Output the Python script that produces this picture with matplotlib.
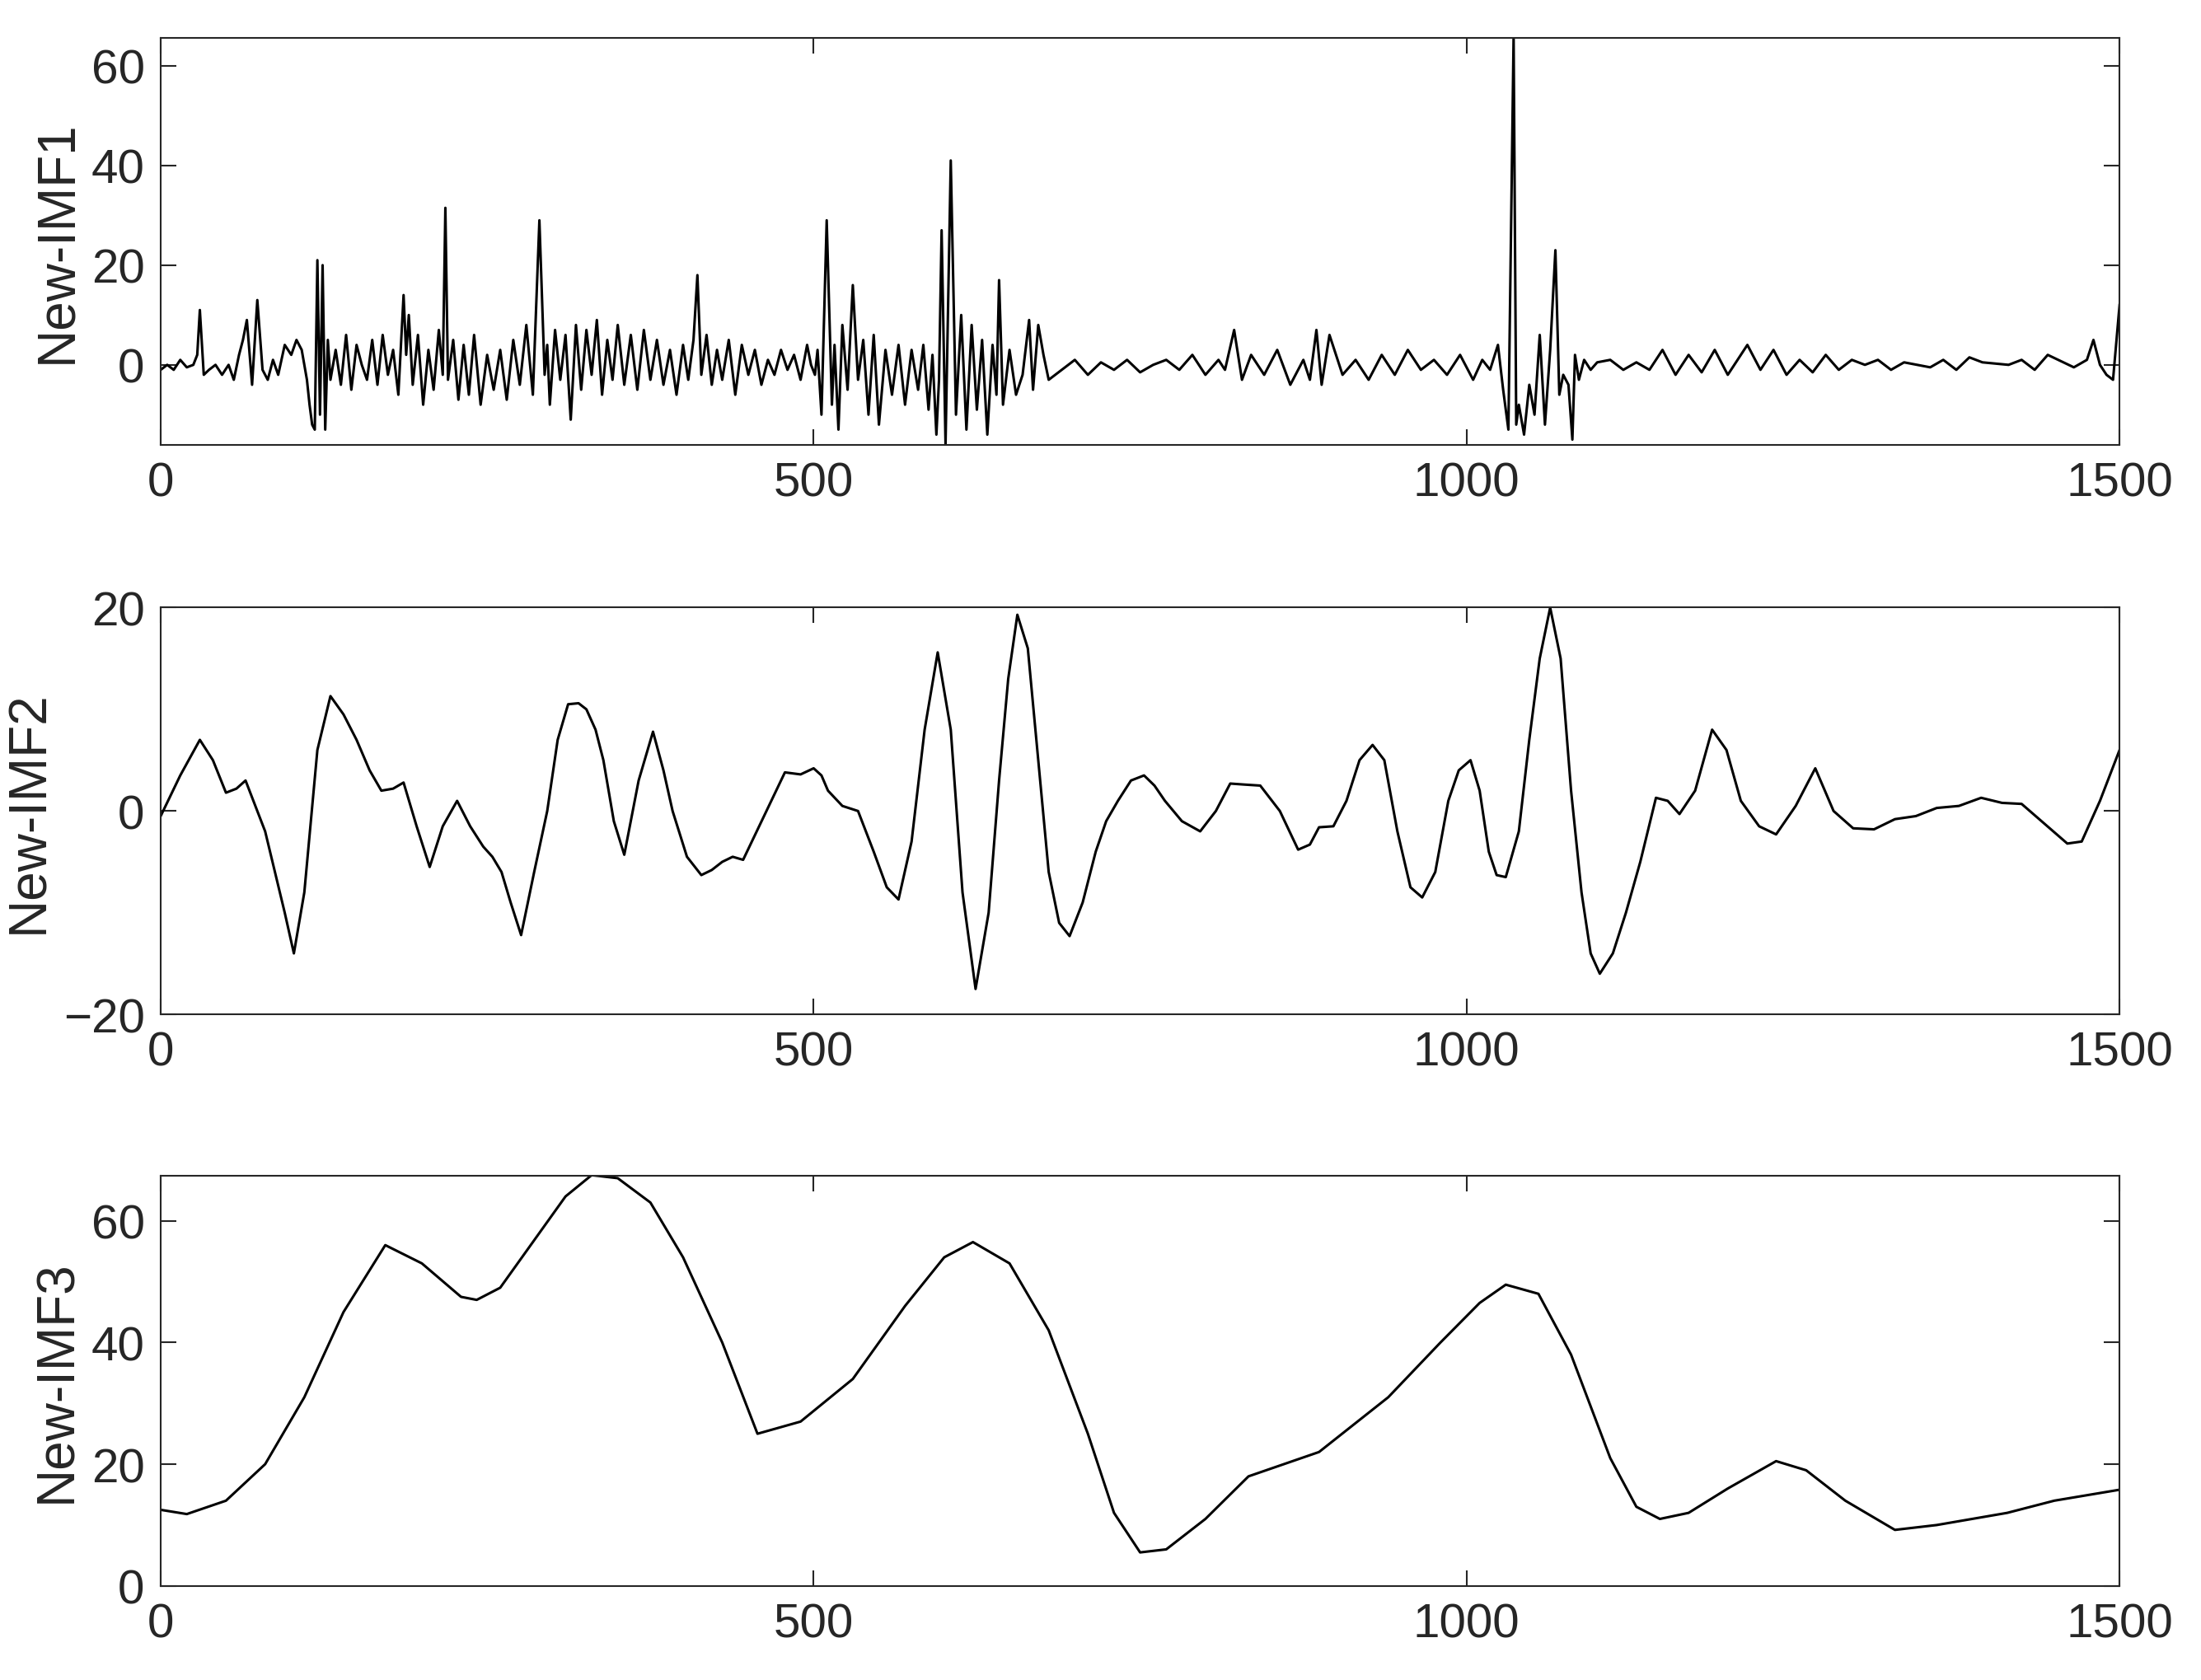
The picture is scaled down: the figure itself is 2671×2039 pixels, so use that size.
import matplotlib
matplotlib.use("Agg")
import matplotlib.pyplot as plt

plt.rcParams['font.family'] = ['Liberation Sans', 'DejaVu Sans']

imf1_x = [0,5,10,15,20,25,28,30,33,37,42,47,52,56,60,63,66,70,74,78,82,86,90,95,100,104,108,112,114,116,118,120,122,124,126,128,130,134,138,142,146,150,154,158,162,166,170,174,178,182,186,188,190,193,197,201,205,209,213,216,218,220,224,228,232,236,240,245,250,255,260,265,270,275,280,285,290,294,296,298,302,306,310,314,318,322,326,330,334,338,342,346,350,355,360,365,370,375,380,385,390,395,400,404,408,411,414,418,422,426,430,435,440,445,450,455,460,465,470,475,480,485,490,495,498,501,503,506,510,514,516,519,522,526,530,534,538,542,546,550,555,560,565,570,575,580,584,588,591,594,596,598,601,605,609,613,617,621,625,629,633,637,640,642,645,650,655,660,665,668,672,676,680,690,700,710,720,730,740,750,760,770,780,790,800,810,815,822,828,835,845,855,865,875,880,885,889,895,905,915,925,935,945,955,965,975,985,995,1005,1012,1018,1024,1028,1032,1036,1038,1040,1044,1048,1052,1056,1060,1064,1068,1071,1074,1078,1081,1083,1086,1090,1095,1100,1110,1120,1130,1140,1150,1160,1170,1180,1190,1200,1215,1225,1235,1245,1255,1265,1275,1285,1295,1305,1315,1325,1335,1355,1365,1375,1385,1395,1415,1425,1435,1445,1465,1475,1480,1485,1490,1495,1500]
imf1_y = [-1,0,-1,1,-0.5,0,2,11,-2,-1,0,-2,0,-3,2,5,9,-4,13,-1,-3,1,-2,4,2,5,3,-3,-8,-12,-13,21,-10,20,-13,5,-3,3,-4,6,-5,4,0,-3,5,-4,6,-2,3,-6,14,2,10,-4,6,-8,3,-5,7,-2,31.5,-3,5,-7,4,-6,6,-8,2,-5,3,-7,5,-4,8,-6,29,-2,4,-8,7,-3,6,-11,8,-5,7,-2,9,-6,5,-3,8,-4,6,-5,7,-3,5,-4,3,-6,4,-3,5,18,-2,6,-4,3,-3,5,-6,4,-2,3,-4,1,-2,3,-1,2,-3,4,0,-2,3,-10,29,-8,4,-13,8,-5,16,-3,5,-10,6,-12,3,-6,4,-8,3,-5,4,-9,2,-14,-3,27,-16,41,-10,10,-13,8,-9,5,-14,4,-6,17,-8,3,-6,-2,9,-5,8,2,-3,-1,1,-2,0.5,-1,1,-1.5,0,1,-1,2,-2,1,-1,7,-3,2,-2,3,-4,1,-3,7,-4,6,-2,1,-3,2,-2,3,-1,1,-2,2,-3,1,-1,4,-5,-13,66,-12,-8,-14,-4,-10,6,-12,3,23,-6,-2,-4,-15,2,-3,1,-1,0.5,1,-1,0.5,-1,3,-2,2,-1.5,3,-2,4,-1,3,-2,1,-1.5,2,-1,1,0,1,-1,0.5,-0.5,1,-1,1.5,0.5,0,1,-1,2,-0.5,1,5,0,-2,-3,12]

imf2_x = [0, 15, 30, 40, 50, 58, 65, 80, 95, 102,
          110, 120, 130, 140, 150, 160, 169, 178, 186, 196,
          206, 216, 227, 237, 247, 254, 261, 268, 276, 286,
          296, 304, 312, 320, 326, 333, 339, 347, 355, 366,
          377, 385, 392, 403, 414, 422, 430, 438, 446, 462,
          478, 490, 500, 506, 511, 522, 534, 546, 556, 565,
          575, 585, 595, 605, 614, 624, 634, 642, 649, 656,
          664, 672, 680, 688, 696, 706, 716, 724, 733, 743,
          753, 761, 769, 782, 796, 808, 819, 830, 842, 857,
          871, 880, 887, 898, 908, 918, 928, 937, 947, 957,
          966, 976, 986, 994, 1003, 1010, 1017, 1023, 1030, 1040,
          1048, 1056, 1064, 1072, 1080, 1088, 1095, 1102, 1112, 1122,
          1133, 1145, 1154, 1163, 1175, 1188, 1199, 1210, 1224, 1237,
          1252, 1267, 1281, 1296, 1312, 1328, 1344, 1360, 1377, 1394,
          1410, 1425, 1443, 1460, 1471, 1485, 1500]
imf2_y = [-0.5, 3.5, 7, 5, 1.8, 2.2, 3, -2, -10, -14,
          -8, 6, 11.3, 9.5, 7, 4, 2, 2.2, 2.8, -1.5,
          -5.5, -1.5, 1, -1.5, -3.5, -4.5, -6, -9, -12.2, -6,
          0, 7, 10.5, 10.6, 10, 8, 5, -1, -4.3, 3,
          7.8, 4, 0, -4.5, -6.3, -5.8, -5, -4.5, -4.8, -0.5,
          3.8, 3.6, 4.2, 3.5, 2, 0.5, 0, -4, -7.5, -8.7,
          -3, 8, 15.6, 8, -8, -17.5, -10, 3, 13, 19.3,
          16, 5, -6, -11, -12.3, -9, -4, -1, 1, 3,
          3.5, 2.5, 1, -1, -2, 0, 2.7, 2.6, 2.5, 0,
          -3.8, -3.3, -1.6, -1.5, 1, 5, 6.5, 5, -2, -7.5,
          -8.5, -6, 1, 4, 5, 2, -4, -6.3, -6.5, -2,
          7, 15, 20, 15, 2, -8, -14, -16, -14, -10,
          -5, 1.3, 1, -0.3, 2, 8, 6, 1, -1.5, -2.3,
          0.5, 4.2, 0, -1.7, -1.8, -0.8, -0.5, 0.3, 0.5, 1.3,
          0.8, 0.7, -1.3, -3.2, -3, 1, 6]

imf3_x = [0,20,50,80,110,140,172,200,230,242,260,290,310,330,350,375,400,430,457,490,530,570,600,622,650,680,710,730,750,770,800,833,887,940,980,1010,1030,1055,1080,1110,1130,1148,1170,1200,1237,1260,1290,1328,1360,1414,1450,1500]
imf3_y = [12.5,11.8,14,20,31,45,56,53,47.5,47,49,58,64,67.5,67,63,54,40,25,27,34,46,54,56.5,53,42,25,12,5.5,6,11,18,22,31,40,46.5,49.5,48,38,21,13,11,12,16,20.5,19,14,9.2,10,12,14,15.8]

n1 = min(len(imf1_x), len(imf1_y))
n2 = min(len(imf2_x), len(imf2_y))
fig = plt.figure(figsize=(26.71, 20.40), dpi=100)
panels = [
    (imf1_x[:n1], imf1_y[:n1], 'New-IMF1', (-16, 65.6), [0, 20, 40, 60], [0.073, 0.735, 0.890, 0.242]),
    (imf2_x[:n2], imf2_y[:n2], 'New-IMF2', (-20, 20), [-20, 0, 20], [0.073, 0.396, 0.890, 0.242]),
    (imf3_x, imf3_y, 'New-IMF3', (0, 67.4), [0, 20, 40, 60], [0.073, 0.056, 0.890, 0.244]),
]
for x, y, lab, yl, yt, rect in panels:
    ax = fig.add_axes(rect)
    ax.plot(x, y, color='black', lw=2.2)
    ax.set_xlim(0, 1500)
    ax.set_ylim(*yl)
    ax.set_xticks([0, 500, 1000, 1500])
    ax.set_yticks(yt)
    ax.set_yticklabels(['\u2212' + str(-v) if v < 0 else str(v) for v in yt])
    ax.set_ylabel(lab, fontsize=46, color='#262626', labelpad=8)
    ax.tick_params(direction='in', top=True, right=True, length=14, width=1.5,
                   labelsize=42, colors='#262626', pad=14)
    for s in ax.spines.values():
        s.set_linewidth(1.5)
        s.set_color('#262626')

fig.savefig('out.png', dpi=100, facecolor='white')
